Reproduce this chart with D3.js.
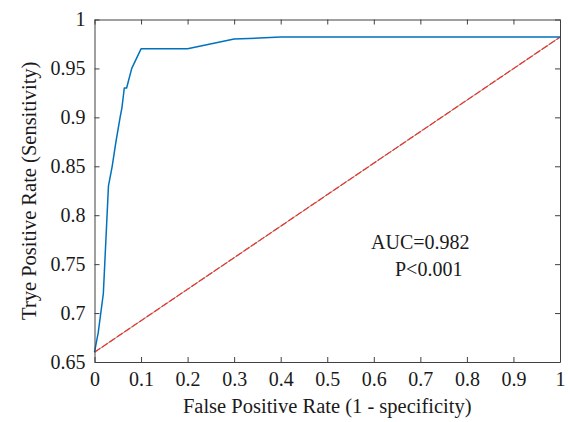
<!DOCTYPE html>
<html>
<head>
<meta charset="utf-8">
<script src="https://cdn.jsdelivr.net/npm/d3@7"></script>
<style>
	body { margin: 0; background: #fff; }
	text { font-family: "Liberation Serif", "DejaVu Serif", serif; fill: #1a1a1a; }
</style>
</head>
<body>
<div id="chart"></div>
<script>
// ROC curve
const FPR = [0, 0.008, 0.019, 0.030, 0.038, 0.046, 0.055, 0.059, 0.064, 0.069, 0.080, 0.100, 0.200, 0.300, 0.400, 1.0];
const TPR = [0.66, 0.68, 0.72, 0.83, 0.85, 0.875, 0.90, 0.91, 0.93, 0.93, 0.95, 0.97, 0.97, 0.98, 0.982, 0.982];
// reference (chance) line
const REF_X = [0, 1];
const REF_Y = [0.66, 0.982];
const X_TICKS = [0, 0.1, 0.2, 0.3, 0.4, 0.5, 0.6, 0.7, 0.8, 0.9, 1];
const Y_TICKS = [0.65, 0.7, 0.75, 0.8, 0.85, 0.9, 0.95, 1];
const NOTES = ["AUC=0.982", "P<0.001"];

var width = 570;
var height = 422;
var margin = { top: 19.5, right: 10, bottom: 60, left: 94.5 };

var svg = d3.select('#chart').append('svg')
	.attr('width', width)
	.attr('height', height);

var x = d3.scaleLinear()
	.domain([0, 1])
	.range([margin.left, width - margin.right]);
var y = d3.scaleLinear()
	.domain([0.65, 1])
	.range([height - margin.bottom, margin.top]);

var line = d3.line()
	.x(function(d) { return x(d[0]); })
	.y(function(d) { return y(d[1]); });

// chance line: gray under red dashes
var refPts = REF_X.map(function(d, i) { return [d, REF_Y[i]]; });
svg.append('path').datum(refPts)
	.attr('d', line)
	.attr('fill', 'none')
	.attr('stroke', '#777')
	.attr('stroke-width', 0.8);
svg.append('path').datum(refPts)
	.attr('d', line)
	.attr('fill', 'none')
	.attr('stroke', '#e8382e')
	.attr('stroke-width', 1.3)
	.attr('stroke-dasharray', '7,2');

// ROC curve
var roc = FPR.map(function(d, i) { return [d, TPR[i]]; });
svg.append('path').datum(roc)
	.attr('d', line)
	.attr('fill', 'none')
	.attr('stroke', '#0072BD')
	.attr('stroke-width', 1.5)
	.attr('stroke-linejoin', 'round');

// axes, MATLAB style box with inward ticks
var axColor = '#404040';
function styleAxis(g) {
	g.attr('font-size', 20)
		.attr('font-family', '"Liberation Serif", "DejaVu Serif", serif');
	g.selectAll('.domain').attr('stroke', axColor);
	g.selectAll('.tick line').attr('stroke', axColor);
	g.selectAll('.tick text')
		.attr('font-size', 20)
		.style('font-size', '20px')
		.attr('fill', '#1a1a1a');
}

var xAxis = svg.append('g')
	.attr('transform', 'translate(0,' + y(0.65) + ')')
	.call(d3.axisBottom(x).tickValues(X_TICKS).tickSize(-5).tickSizeOuter(0).tickPadding(10)
		.tickFormat(function(d) { return d3.format('')(d); }))
	.call(styleAxis);

var xTop = svg.append('g')
	.attr('transform', 'translate(0,' + y(1) + ')')
	.call(d3.axisTop(x).tickValues(X_TICKS).tickSize(-5).tickSizeOuter(0).tickFormat(''))
	.call(styleAxis);

var yAxis = svg.append('g')
	.attr('transform', 'translate(' + x(0) + ',0)')
	.call(d3.axisLeft(y).tickValues(Y_TICKS).tickSize(-5).tickSizeOuter(0).tickPadding(9)
		.tickFormat(function(d) { return d3.format('')(d); }))
	.call(styleAxis);

var yRight = svg.append('g')
	.attr('transform', 'translate(' + x(1) + ',0)')
	.call(d3.axisRight(y).tickValues(Y_TICKS).tickSize(-5).tickSizeOuter(0).tickFormat(''))
	.call(styleAxis);

// axis titles
svg.append('text')
	.attr('x', (x(0) + x(1)) / 2)
	.attr('y', 413)
	.attr('text-anchor', 'middle')
	.attr('font-size', '20.5px')
	.text('False Positive Rate (1 - specificity)');

svg.append('text')
	.attr('transform', 'translate(36,' + ((y(0.65) + y(1)) / 2) + ') rotate(-90)')
	.attr('text-anchor', 'middle')
	.attr('font-size', '20.5px')
	.text('Trye Positive Rate (Sensitivity)');

// annotation
svg.append('text')
	.attr('x', 371)
	.attr('y', 249)
	.attr('font-size', '20px')
	.text(NOTES[0]);
svg.append('text')
	.attr('x', 395)
	.attr('y', 276)
	.attr('font-size', '20px')
	.text(NOTES[1]);
</script>
</body>
</html>
